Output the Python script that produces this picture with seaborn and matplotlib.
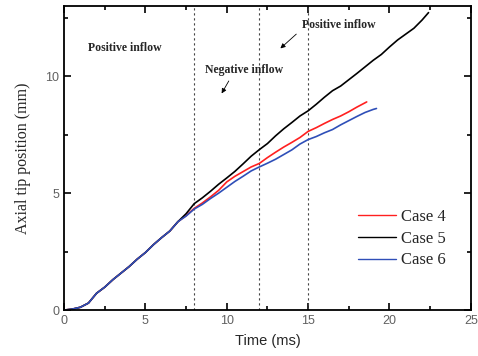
import numpy as np
import pandas as pd
import seaborn as sns
import matplotlib.pyplot as plt
from matplotlib.ticker import MultipleLocator

# Shared start-up part (all three cases overlap up to ~7 ms)
t_start = [0, 0.5, 1.0, 1.5, 2.0, 2.5, 3.0, 3.5, 4.0, 4.5, 5.0, 5.5, 6.0, 6.5, 7.0]
y_start = [0, 0.04, 0.12, 0.30, 0.72, 0.98, 1.30, 1.58, 1.86, 2.18, 2.46, 2.80, 3.10, 3.38, 3.78]

t_case4 = [7.5, 8.0, 8.5, 9.0, 9.5, 10.0, 10.5, 11.0, 11.5, 12.0, 12.5, 13.0, 13.5, 14.0,
           14.5, 15.0, 15.5, 16.0, 16.5, 17.0, 17.5, 18.0, 18.6]
y_case4 = [4.04, 4.35, 4.58, 4.84, 5.12, 5.48, 5.72, 5.92, 6.12, 6.27, 6.52, 6.75, 6.97, 7.17,
           7.38, 7.64, 7.80, 7.98, 8.15, 8.30, 8.48, 8.68, 8.90]

t_case5 = [7.5, 8.0, 8.5, 9.0, 9.5, 10.0, 10.5, 11.0, 11.5, 12.0, 12.5, 13.0, 13.5, 14.0,
           14.5, 15.0, 15.5, 16.0, 16.5, 17.0, 17.5, 18.0, 18.5, 19.0, 19.5, 20.0, 20.5,
           21.0, 21.5, 22.0, 22.4]
y_case5 = [4.12, 4.55, 4.80, 5.08, 5.38, 5.65, 5.93, 6.25, 6.58, 6.86, 7.12, 7.45, 7.75, 8.02,
           8.30, 8.52, 8.80, 9.10, 9.38, 9.58, 9.85, 10.12, 10.40, 10.68, 10.93, 11.25, 11.55,
           11.80, 12.05, 12.40, 12.72]

t_case6 = [7.5, 8.0, 8.5, 9.0, 9.5, 10.0, 10.5, 11.0, 11.5, 12.0, 12.5, 13.0, 13.5, 14.0,
           14.5, 15.0, 15.5, 16.0, 16.5, 17.0, 17.5, 18.0, 18.5, 19.0, 19.2]
y_case6 = [4.02, 4.32, 4.52, 4.77, 5.00, 5.25, 5.50, 5.72, 5.95, 6.12, 6.28, 6.45, 6.65, 6.85,
           7.10, 7.29, 7.42, 7.58, 7.72, 7.92, 8.10, 8.28, 8.45, 8.58, 8.62]

case_names = ["Case 4", "Case 5", "Case 6"]
case_colors = ["#ff2020", "#000000", "#2f4fb8"]
inflow_lines = [8, 12, 15]

rows = []
for name, tt, yy in zip(case_names, [t_case4, t_case5, t_case6], [y_case4, y_case5, y_case6]):
    for a, b in zip(t_start + tt, y_start + yy):
        rows.append({"t": a, "y": b, "case": name})
df = pd.DataFrame(rows)

sns.set_style("ticks")
plt.rcParams["font.family"] = ["Liberation Sans", "DejaVu Sans"]

fig = plt.figure(figsize=(4.78, 3.56), dpi=100)
ax = fig.add_axes([0.134, 0.129, 0.851, 0.854])

for xv in inflow_lines:
    ax.axvline(xv, color="#444444", lw=0.8, ls=(0, (2, 2.5)), zorder=1)

sns.lineplot(data=df, x="t", y="y", hue="case", palette=case_colors,
             hue_order=case_names, lw=1.2, ax=ax, sort=False, estimator=None)

ax.set_xlim(0, 25)
ax.set_ylim(0, 13)
ax.xaxis.set_major_locator(MultipleLocator(5))
ax.xaxis.set_minor_locator(MultipleLocator(2.5))
ax.yaxis.set_major_locator(MultipleLocator(5))
ax.yaxis.set_minor_locator(MultipleLocator(2.5))
ax.tick_params(which="both", direction="in", top=True, right=True, color="black",
               labelcolor="#606060", labelsize=9, width=1.2)
ax.tick_params(which="major", length=5)
ax.tick_params(which="minor", length=3)
for s in ax.spines.values():
    s.set_linewidth(1.3)
    s.set_color("black")

ax.set_xlabel("Time (ms)", fontsize=10.5, labelpad=5)
ax.set_ylabel("Axial tip position (mm)", fontsize=11.5, family="Liberation Serif", labelpad=10)

serif = dict(family="Liberation Serif", fontsize=8.5, fontweight="bold", va="center")
ax.text(1.45, 11.2, "Positive inflow", **serif)
ax.text(8.65, 10.26, "Negative inflow", **serif)
ax.text(14.6, 12.18, "Positive inflow", **serif)
ax.annotate("", xy=(9.6, 9.16), xytext=(10.21, 9.9),
            arrowprops=dict(arrowstyle="-|>", color="black", lw=0.6, mutation_scale=7))
ax.annotate("", xy=(13.17, 11.11), xytext=(14.4, 11.88),
            arrowprops=dict(arrowstyle="-|>", color="black", lw=0.6, mutation_scale=7))

leg = ax.legend(loc="center left", bbox_to_anchor=(0.685, 0.235), frameon=False,
                prop={"family": "Liberation Serif", "size": 12}, handlelength=2.3,
                handletextpad=0.3, labelspacing=0.35)
for h in leg.get_lines():
    h.set_linewidth(1.0)

fig.savefig("out.png", dpi=100)
